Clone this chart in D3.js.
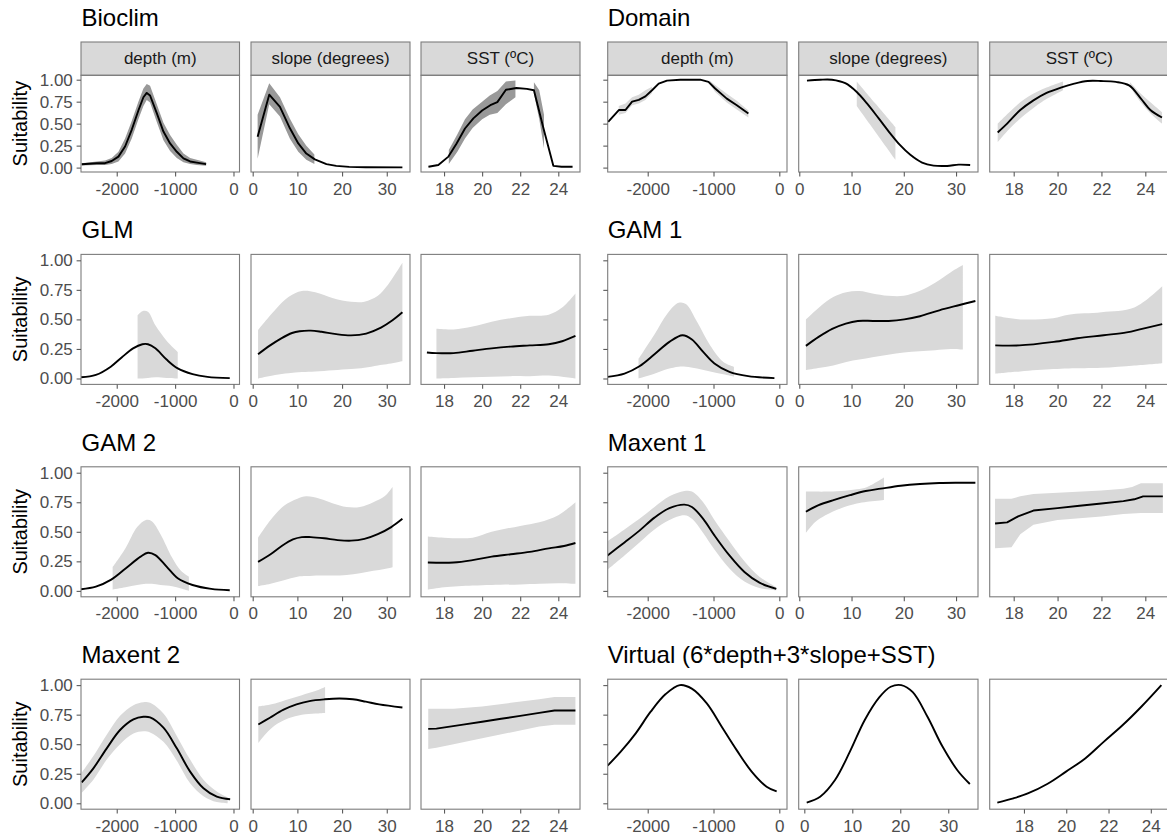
<!DOCTYPE html>
<html>
<head>
<meta charset="utf-8">
<script src="https://cdn.jsdelivr.net/npm/d3@7"></script>
<style>
  body { margin: 0; background: #ffffff; }
  svg { display: block; }
</style>
</head>
<body>
<svg id="chart" width="1167" height="838"></svg>
<script>
// ---------------------------------------------------------------
// Response curves of suitability against depth, slope and SST
// for each species-distribution model.
// ---------------------------------------------------------------

const modelNames = ["Bioclim", "Domain", "GLM", "GAM 1", "GAM 2", "Maxent 1", "Maxent 2",
                    "Virtual (6*depth+3*slope+SST)"];
const variableNames = ["depth (m)", "slope (degrees)", "SST (ºC)"];

const yTicks = [0, 0.25, 0.5, 0.75, 1];
const yTickLabels = ["0.00", "0.25", "0.50", "0.75", "1.00"];
const depthTicks = [-2000, -1000, 0];
const depthTickLabels = ["-2000", "-1000", "0"];
const slopeTicks = [0, 10, 20, 30];
const slopeTickLabels = ["0", "10", "20", "30"];
const sstTicks = [18, 20, 22, 24];
const sstTickLabels = ["18", "20", "22", "24"];

// x ranges shown in each panel column
const depthDomainLeft = [-2612, 103], slopeDomainLeft = [-0.38, 35.2], sstDomainLeft = [16.79, 25.14];
const depthDomainRight = [-2608, 117], slopeDomainRight = [-0.11, 34.2], sstDomainRight = [16.906, 25.08];
const slopeDomainVirtual = [-1.17, 36.2], sstDomainVirtual = [16.38, 24.86];

// ---- Bioclim ----  lines: [x, suitability]; bands: segments of [x, lower, upper]
const bioclimDepthLine = [[-2600,0.038],[-2343,0.05],[-2200,0.05],[-2086,0.075],[-1971,0.125],[-1857,0.24],[-1743,0.43],[-1629,0.65],[-1543,0.8],[-1486,0.85],[-1429,0.82],[-1314,0.62],[-1200,0.41],[-1086,0.275],[-971,0.18],[-857,0.105],[-743,0.07],[-629,0.057],[-469,0.04]];
const bioclimDepthBand = [[[-2600,0.025,0.05],[-2343,0.03,0.07],[-2200,0.03,0.08],[-2086,0.04,0.11],[-1971,0.07,0.18],[-1857,0.16,0.33],[-1743,0.33,0.53],[-1629,0.55,0.75],[-1543,0.7,0.9],[-1486,0.77,0.95],[-1429,0.74,0.93],[-1314,0.52,0.72],[-1200,0.31,0.51],[-1086,0.19,0.37],[-971,0.11,0.26],[-857,0.06,0.16],[-743,0.04,0.11],[-629,0.03,0.09],[-469,0.02,0.06]]];
const bioclimSlopeLine = [[1.1,0.35],[3.7,0.83],[6.1,0.69],[8.3,0.45],[10.2,0.275],[12,0.16],[13.9,0.094],[16.5,0.04],[18.7,0.02],[21.6,0.008],[25.3,0.004],[33.5,0.003]];
const bioclimSlopeBand = [[[1.1,0.1,0.6],[3.7,0.72,0.96],[6.1,0.58,0.8],[8.3,0.33,0.56],[10.2,0.18,0.38],[12,0.09,0.25],[13.8,0.04,0.15]]];
const bioclimSstLine = [[17.18,0.01],[17.7,0.03],[18.23,0.125],[18.66,0.275],[19.1,0.445],[19.54,0.56],[20.0,0.65],[20.43,0.71],[20.8,0.745],[21.25,0.885],[21.8,0.905],[22.35,0.895],[22.72,0.88],[23.2,0.465],[23.74,0.02],[24.17,0.01],[24.75,0.01]];
const bioclimSstBand = [
  [[18.25,0.04,0.2],[18.7,0.18,0.38],[19.1,0.33,0.55],[19.5,0.45,0.66],[20.0,0.55,0.75],[20.4,0.6,0.82],[20.8,0.62,0.87],[21.25,0.72,0.98],[21.75,0.8,0.99]],
  [[22.72,0.84,0.97],[23.0,0.55,0.88],[23.25,0.22,0.6]]
];

// ---- Domain ----
const domainDepthLine = [[-2601,0.52],[-2439,0.655],[-2338,0.655],[-2237,0.75],[-2136,0.77],[-2035,0.81],[-1934,0.88],[-1833,0.955],[-1707,0.99],[-1505,1.0],[-1202,1.0],[-1076,0.975],[-975,0.9],[-798,0.785],[-646,0.71],[-470,0.615]];
const domainDepthBand = [
  [[-2440,0.6,0.7],[-2338,0.62,0.73],[-2237,0.71,0.8],[-2136,0.73,0.83],[-2035,0.77,0.88],[-1934,0.85,0.92]],
  [[-1060,0.95,0.99],[-975,0.86,0.94],[-798,0.74,0.84],[-646,0.66,0.76],[-470,0.57,0.65]]
];
const domainSlopeLine = [[1.47,0.99],[4.0,1.0],[6.25,1.0],[8.8,0.96],[11.0,0.86],[12.95,0.73],[15.2,0.56],[17.4,0.39],[19.3,0.255],[21.25,0.145],[23.5,0.057],[25.7,0.023],[28.3,0.019],[30.5,0.034],[32.7,0.03]];
const domainSlopeBand = [[[11.0,0.7,0.98],[14.7,0.395,0.72],[18.4,0.09,0.46]]];
const domainSstLine = [[17.27,0.4],[17.7,0.5],[18.3,0.655],[18.9,0.765],[19.5,0.85],[20.15,0.91],[20.76,0.955],[21.37,0.985],[21.97,0.985],[22.66,0.975],[23.26,0.935],[23.8,0.785],[24.23,0.655],[24.76,0.57]];
const domainSstBand = [
  [[17.27,0.29,0.5],[17.8,0.44,0.63],[18.5,0.6,0.78],[19.3,0.75,0.89],[20.25,0.88,0.98]],
  [[23.3,0.92,0.97],[23.8,0.74,0.84],[24.3,0.6,0.73],[24.76,0.5,0.63]]
];

// ---- GLM ----
const glmDepthLine = [[-2611,0.01],[-2357,0.03],[-2102,0.1],[-1911,0.18],[-1720,0.255],[-1561,0.29],[-1465,0.29],[-1338,0.255],[-1146,0.16],[-955,0.085],[-701,0.037],[-446,0.014],[-64,0.003]];
const glmDepthBand = [[[-1643,0.0,0.535],[-1560,0.0,0.57],[-1465,0.005,0.565],[-1338,0.01,0.45],[-1146,0.005,0.32],[-955,0.0,0.225]]];
const glmSlopeLine = [[1.2,0.205],[3.9,0.28],[6.4,0.34],[8.8,0.385],[10.5,0.4],[13,0.405],[15.4,0.395],[18.7,0.375],[22,0.365],[25.4,0.38],[28.7,0.43],[31.2,0.49],[33.5,0.56]];
const glmSlopeBand = [[[1.2,0.0,0.41],[5,0.03,0.58],[8,0.045,0.69],[11,0.055,0.74],[14,0.06,0.73],[18,0.07,0.68],[22,0.08,0.65],[25,0.09,0.65],[28,0.11,0.7],[30,0.12,0.78],[33.5,0.145,0.98]]];
const glmSstLine = [[17.1,0.22],[17.6,0.215],[18.5,0.215],[19.5,0.235],[20.5,0.255],[21.5,0.27],[22.5,0.28],[23.5,0.29],[24.2,0.315],[24.9,0.36]];
const glmSstBand = [[[17.6,0.0,0.42],[18.5,0.005,0.415],[19.5,0.01,0.44],[20.5,0.015,0.48],[21.5,0.02,0.51],[22.5,0.02,0.53],[23.5,0.025,0.54],[24.2,0.015,0.6],[24.9,0.0,0.72]]];

// ---- GAM 1 ----
const gam1DepthLine = [[-2610,0.014],[-2353,0.042],[-2125,0.104],[-1897,0.205],[-1670,0.31],[-1470,0.366],[-1328,0.33],[-1157,0.225],[-986,0.127],[-758,0.056],[-473,0.02],[-74,0.003]];
const gam1DepthBand = [[[-2140,0.0,0.165],[-1900,0.04,0.37],[-1700,0.08,0.55],[-1530,0.1,0.64],[-1420,0.1,0.63],[-1250,0.085,0.48],[-1050,0.06,0.28],[-850,0.035,0.14],[-690,0.015,0.1]]];
const gam1SlopeLine = [[1.27,0.276],[3.7,0.352],[6.3,0.42],[8.9,0.465],[11.2,0.487],[14.1,0.487],[17.1,0.487],[20.1,0.5],[23.1,0.527],[26.8,0.577],[30.5,0.62],[33.7,0.656]];
const gam1SlopeBand = [[[1.27,0.07,0.5],[4,0.09,0.61],[6.5,0.11,0.69],[9,0.14,0.73],[11.5,0.16,0.74],[14,0.18,0.72],[17,0.2,0.7],[20,0.22,0.7],[23,0.23,0.74],[26,0.24,0.81],[29,0.25,0.9],[31.3,0.245,0.96]]];
const gam1SstLine = [[17.16,0.28],[18.26,0.28],[19.83,0.31],[20.9,0.34],[22.1,0.366],[23.15,0.39],[23.85,0.42],[24.77,0.46]];
const gam1SstBand = [[[17.16,0.04,0.53],[18.3,0.06,0.5],[19.8,0.08,0.51],[20.5,0.085,0.54],[22,0.09,0.56],[23.5,0.11,0.6],[24.77,0.13,0.78]]];

// ---- GAM 2 ----
const gam2DepthLine = [[-2611,0.014],[-2357,0.036],[-2102,0.093],[-1848,0.19],[-1592,0.29],[-1465,0.323],[-1338,0.303],[-1146,0.205],[-955,0.107],[-701,0.05],[-382,0.017],[-64,0.006]];
const gam2DepthBand = [[[-2070,0.01,0.2],[-1850,0.03,0.36],[-1650,0.05,0.54],[-1500,0.06,0.6],[-1400,0.06,0.59],[-1250,0.05,0.48],[-1050,0.04,0.28],[-900,0.02,0.17],[-764,0.0,0.12]]];
const gam2SlopeLine = [[1.2,0.245],[4,0.31],[6.5,0.38],[9,0.435],[11,0.455],[13,0.455],[16,0.445],[19,0.43],[22,0.425],[25,0.44],[28,0.48],[31,0.54],[33.5,0.61]];
const gam2SlopeBand = [[[1.2,0.04,0.45],[4,0.06,0.6],[7,0.09,0.72],[10,0.12,0.78],[12,0.125,0.8],[15,0.13,0.78],[18,0.13,0.74],[21,0.135,0.71],[24,0.15,0.71],[27,0.17,0.75],[29.5,0.185,0.8],[31.3,0.2,0.88]]];
const gam2SstLine = [[17.15,0.24],[18.5,0.24],[19.5,0.26],[20.5,0.29],[21.5,0.31],[22.5,0.33],[23.5,0.36],[24.3,0.38],[24.9,0.405]];
const gam2SstBand = [[[17.15,0.01,0.46],[18,0.03,0.45],[19.5,0.045,0.45],[20.5,0.05,0.5],[22,0.055,0.55],[23,0.06,0.58],[24,0.065,0.64],[24.9,0.06,0.75]]];

// ---- Maxent 1 ----
const maxent1DepthLine = [[-2610,0.3],[-2353,0.41],[-2125,0.51],[-1897,0.62],[-1670,0.7],[-1442,0.73],[-1328,0.71],[-1157,0.61],[-986,0.47],[-758,0.3],[-530,0.16],[-302,0.07],[-46,0.017]];
const maxent1DepthBand = [[[-2610,0.18,0.42],[-2353,0.3,0.52],[-2125,0.41,0.61],[-1897,0.52,0.71],[-1670,0.6,0.8],[-1442,0.64,0.845],[-1328,0.61,0.84],[-1157,0.49,0.75],[-986,0.35,0.6],[-758,0.19,0.42],[-530,0.08,0.25],[-302,0.025,0.12],[-46,0.005,0.03]]];
const maxent1SlopeLine = [[1.27,0.67],[3.7,0.725],[6.7,0.77],[9.7,0.81],[12.7,0.845],[15.6,0.865],[19.4,0.89],[23.1,0.905],[26.8,0.913],[30.5,0.915],[33.7,0.915]];
const maxent1SlopeBand = [[[1.27,0.49,0.84],[3,0.58,0.84],[5,0.64,0.84],[8,0.7,0.845],[11,0.74,0.86],[13,0.755,0.88],[16.2,0.77,0.96]]];
const maxent1SstLine = [[17.15,0.57],[17.7,0.58],[18.2,0.63],[18.9,0.68],[20,0.7],[21,0.72],[22,0.74],[23,0.76],[23.5,0.775],[23.9,0.8],[24.8,0.8]];
const maxent1SstBand = [[[17.15,0.36,0.78],[17.9,0.37,0.78],[18.3,0.48,0.8],[18.9,0.56,0.82],[20,0.6,0.83],[22,0.63,0.85],[23,0.65,0.865],[23.4,0.655,0.88],[23.8,0.66,0.91],[24.8,0.66,0.91]]];

// ---- Maxent 2 ----
const maxent2DepthLine = [[-2600,0.177],[-2400,0.296],[-2171,0.465],[-1943,0.62],[-1714,0.71],[-1543,0.732],[-1429,0.727],[-1200,0.64],[-971,0.465],[-743,0.268],[-514,0.127],[-286,0.056],[-57,0.034]];
const maxent2DepthBand = [[[-2600,0.09,0.26],[-2400,0.2,0.4],[-2171,0.37,0.58],[-1943,0.5,0.74],[-1714,0.59,0.83],[-1543,0.61,0.855],[-1429,0.6,0.85],[-1200,0.52,0.76],[-971,0.36,0.57],[-743,0.17,0.37],[-514,0.06,0.2],[-286,0.01,0.1],[-100,0.0,0.05]]];
const maxent2SlopeLine = [[1.26,0.667],[3.85,0.724],[6.8,0.79],[9.8,0.837],[12.7,0.865],[16.1,0.88],[19.4,0.887],[22.4,0.88],[25.3,0.86],[28.3,0.837],[33.5,0.81]];
const maxent2SlopeBand = [[[1.26,0.51,0.82],[3,0.59,0.83],[5,0.66,0.845],[8,0.72,0.88],[11,0.75,0.915],[14,0.76,0.95],[16.2,0.765,0.985]]];
const maxent2SstLine = [[17.17,0.63],[17.6,0.632],[19,0.666],[20,0.69],[21,0.715],[22,0.74],[23,0.765],[23.8,0.785],[24.9,0.785]];
const maxent2SstBand = [[[17.17,0.46,0.8],[17.6,0.47,0.8],[18.5,0.5,0.8],[20,0.55,0.82],[21.5,0.6,0.85],[23,0.65,0.88],[23.8,0.665,0.9],[24.9,0.665,0.9]]];

// ---- Virtual species (true response, no band) ----
const virtualDepthLine = [[-2610,0.318],[-2410,0.437],[-2182,0.592],[-1955,0.775],[-1727,0.924],[-1511,1.0],[-1330,0.97],[-1102,0.845],[-875,0.648],[-648,0.45],[-420,0.268],[-193,0.14],[-40,0.1]];
const virtualSlopeLine = [[0.5,0.006],[3.3,0.056],[6.4,0.197],[9.5,0.437],[12.6,0.705],[15.7,0.9],[18,0.986],[20.2,1.0],[22.6,0.94],[25.7,0.73],[28.8,0.48],[31.9,0.28],[34.5,0.163]];
const virtualSstLine = [[16.74,0.006],[17.5,0.042],[18.21,0.085],[19.1,0.163],[19.99,0.268],[20.88,0.377],[21.77,0.52],[22.66,0.66],[23.55,0.817],[24.5,1.0]];

// ---------------------------------------------------------------
// Panel table built from the arrays above
// ---------------------------------------------------------------
const leftDomains = [depthDomainLeft, slopeDomainLeft, sstDomainLeft];
const rightDomains = [depthDomainRight, slopeDomainRight, sstDomainRight];
const virtualDomains = [depthDomainRight, slopeDomainVirtual, sstDomainVirtual];
const xTicks = [depthTicks, slopeTicks, sstTicks];
const xTickLabels = [depthTickLabels, slopeTickLabels, sstTickLabels];

// smooth: whether each of the three curves is drawn as a smooth spline or piecewise
const models = [
  { name: modelNames[0], row: 0, col: 0, smooth: [false, false, false], bandFill: "#999999", domains: leftDomains,
    lines: [bioclimDepthLine, bioclimSlopeLine, bioclimSstLine], bands: [bioclimDepthBand, bioclimSlopeBand, bioclimSstBand] },
  { name: modelNames[1], row: 0, col: 1, smooth: [false, true, true], bandFill: "#d9d9d9", domains: rightDomains,
    lines: [domainDepthLine, domainSlopeLine, domainSstLine], bands: [domainDepthBand, domainSlopeBand, domainSstBand] },
  { name: modelNames[2], row: 1, col: 0, smooth: [true, true, true], bandFill: "#d9d9d9", domains: leftDomains,
    lines: [glmDepthLine, glmSlopeLine, glmSstLine], bands: [glmDepthBand, glmSlopeBand, glmSstBand] },
  { name: modelNames[3], row: 1, col: 1, smooth: [true, true, true], bandFill: "#d9d9d9", domains: rightDomains,
    lines: [gam1DepthLine, gam1SlopeLine, gam1SstLine], bands: [gam1DepthBand, gam1SlopeBand, gam1SstBand] },
  { name: modelNames[4], row: 2, col: 0, smooth: [true, true, true], bandFill: "#d9d9d9", domains: leftDomains,
    lines: [gam2DepthLine, gam2SlopeLine, gam2SstLine], bands: [gam2DepthBand, gam2SlopeBand, gam2SstBand] },
  { name: modelNames[5], row: 2, col: 1, smooth: [true, true, false], bandFill: "#d9d9d9", domains: rightDomains,
    lines: [maxent1DepthLine, maxent1SlopeLine, maxent1SstLine], bands: [maxent1DepthBand, maxent1SlopeBand, maxent1SstBand] },
  { name: modelNames[6], row: 3, col: 0, smooth: [true, true, false], bandFill: "#d9d9d9", domains: leftDomains,
    lines: [maxent2DepthLine, maxent2SlopeLine, maxent2SstLine], bands: [maxent2DepthBand, maxent2SlopeBand, maxent2SstBand] },
  { name: modelNames[7], row: 3, col: 1, smooth: [true, true, true], bandFill: "#d9d9d9", domains: virtualDomains,
    lines: [virtualDepthLine, virtualSlopeLine, virtualSstLine], bands: [[], [], []] }
];

// ---------------------------------------------------------------
// Layout
// ---------------------------------------------------------------
const FONT = "'Liberation Sans', Arial, Helvetica, sans-serif";
const columns = [
  { titleX: 81.5, panels: [[81, 239.5], [251, 410], [421, 580]], yLabels: true },
  { titleX: 607.7, panels: [[607.7, 787], [798.7, 978], [989.7, 1169]], yLabels: false }
];
const ROW_STEP = 212.4;
const STRIP_H = 33.3;
function rowGeom(r) {
  const off = r * ROW_STEP;
  return { title: off + 26, stripTop: off + 42, top: off + 42 + (r === 0 ? STRIP_H : 0), bottom: off + 172 };
}

const svg = d3.select("#chart");
svg.append("rect").attr("width", 1167).attr("height", 838).attr("fill", "#ffffff");

const BORDER = "#7d7d7d";
const TICK = "#5a5a5a";
const TICKTEXT = "#4d4d4d";
const TICK_FONT = 17;

models.forEach((m, mi) => {
  const g = rowGeom(m.row);
  const col = columns[m.col];
  const gm = svg.append("g").attr("class", "model");

  // model title
  gm.append("text")
    .attr("x", col.titleX).attr("y", g.title)
    .attr("font-family", FONT).attr("font-size", 24).attr("fill", "#000")
    .text(m.name);

  const y = d3.scaleLinear().domain([-0.05, 1.05]).range([g.bottom, g.top]);

  // y axis title (left column only)
  if (col.yLabels) {
    gm.append("text")
      .attr("transform", `translate(19.5,${(g.top + g.bottom) / 2}) rotate(-90)`)
      .attr("text-anchor", "middle").attr("dominant-baseline", "central")
      .attr("font-family", FONT).attr("font-size", 20).attr("fill", "#000")
      .text("Suitability");
  }

  variableNames.forEach((vn, vi) => {
    const curve = m.smooth[vi] ? d3.curveCatmullRom.alpha(0.5) : d3.curveLinear;
    const [x0, x1] = col.panels[vi];
    const x = d3.scaleLinear().domain(m.domains[vi]).range([x0, x1]);
    const clipId = `clip-${mi}-${vi}`;
    gm.append("clipPath").attr("id", clipId)
      .append("rect").attr("x", x0).attr("y", g.top).attr("width", x1 - x0).attr("height", g.bottom - g.top);

    const pg = gm.append("g").attr("clip-path", `url(#${clipId})`);

    // confidence bands
    const area = d3.area().curve(curve).x(d => x(d[0])).y0(d => y(d[1])).y1(d => y(d[2]));
    m.bands[vi].forEach(seg => {
      pg.append("path").attr("d", area(seg)).attr("fill", m.bandFill).attr("stroke", "none");
    });

    // response curve
    const line = d3.line().curve(curve).x(d => x(d[0])).y(d => y(d[1]));
    pg.append("path").attr("d", line(m.lines[vi]))
      .attr("fill", "none").attr("stroke", "#000").attr("stroke-width", 1.9)
      .attr("stroke-linejoin", "round").attr("stroke-linecap", "butt");

    // strip on the top row
    if (m.row === 0) {
      gm.append("rect").attr("x", x0).attr("y", g.stripTop).attr("width", x1 - x0).attr("height", STRIP_H)
        .attr("fill", "#d9d9d9").attr("stroke", BORDER).attr("stroke-width", 1.1);
      gm.append("text")
        .attr("x", (x0 + x1) / 2).attr("y", g.stripTop + STRIP_H / 2)
        .attr("text-anchor", "middle").attr("dominant-baseline", "central")
        .attr("font-family", FONT).attr("font-size", 17).attr("fill", "#1a1a1a")
        .text(vn);
    }

    // panel border
    gm.append("rect").attr("x", x0).attr("y", g.top).attr("width", x1 - x0).attr("height", g.bottom - g.top)
      .attr("fill", "none").attr("stroke", BORDER).attr("stroke-width", 1.1);

    // x axis
    const xa = gm.append("g").attr("transform", `translate(0,${g.bottom})`)
      .call(d3.axisBottom(x).tickValues(xTicks[vi])
        .tickFormat((d, i) => xTickLabels[vi][i]).tickSize(4.4).tickPadding(6.2));
    xa.select(".domain").remove();
    xa.selectAll("line").attr("stroke", TICK).attr("stroke-width", 1.1);
    xa.selectAll("text").attr("fill", TICKTEXT).attr("font-family", FONT).attr("font-size", TICK_FONT);

    // y axis on the first panel of each row
    if (vi === 0) {
      const ya = gm.append("g").attr("transform", `translate(${x0},0)`)
        .call(d3.axisLeft(y).tickValues(yTicks)
          .tickFormat((d, i) => col.yLabels ? yTickLabels[i] : "").tickSize(4.4).tickPadding(3.8));
      ya.select(".domain").remove();
      ya.selectAll("line").attr("stroke", TICK).attr("stroke-width", 1.1);
      ya.selectAll("text").attr("fill", TICKTEXT).attr("font-family", FONT).attr("font-size", TICK_FONT);
    }
  });
});
</script>
</body>
</html>
